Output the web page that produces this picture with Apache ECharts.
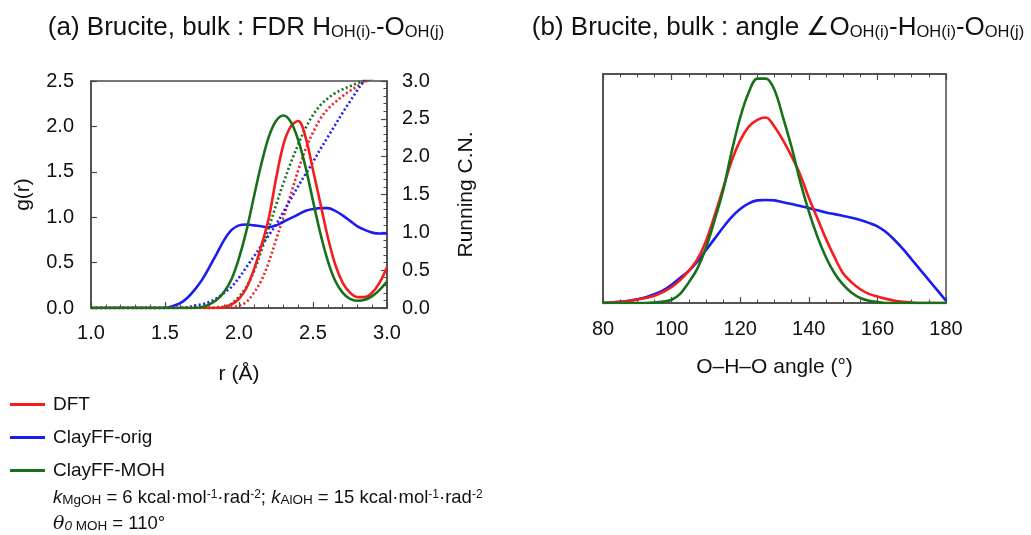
<!DOCTYPE html>
<html>
<head>
<meta charset="utf-8">
<script src="https://cdn.jsdelivr.net/npm/echarts@6/dist/echarts.min.js"></script>
<style>
html,body{margin:0;padding:0;background:#fff;}
#chart{width:1031px;height:535px;}
</style>
</head>
<body>
<div id="chart"></div>
<script>
// ---------- Data (panel a) ----------
const rValues = [1.00,1.05,1.10,1.15,1.20,1.25,1.30,1.35,1.40,1.45,1.50,1.55,1.60,1.65,1.70,1.75,1.80,1.85,1.90,1.95,2.00,2.05,2.10,2.15,2.20,2.25,2.30,2.35,2.40,2.45,2.50,2.55,2.60,2.65,2.70,2.75,2.80,2.85,2.90,2.95,3.00];
const gDFT    = [0,0,0,0,0,0,0,0,0,0,0,0,0,0,0,0,0,0.0,0.01,0.04,0.10,0.22,0.42,0.68,0.98,1.42,1.80,2.00,2.06,1.88,1.52,1.15,0.78,0.48,0.28,0.17,0.12,0.12,0.17,0.28,0.45];
const gOrig   = [0,0,0,0,0,0,0,0,0,0,0.0,0.02,0.05,0.11,0.20,0.31,0.45,0.60,0.75,0.86,0.91,0.92,0.91,0.90,0.89,0.91,0.95,0.99,1.03,1.07,1.09,1.10,1.10,1.07,1.02,0.96,0.90,0.86,0.83,0.82,0.82];
const gMOH    = [0,0,0,0,0,0,0,0,0,0,0,0,0,0,0.0,0.01,0.04,0.09,0.18,0.32,0.55,0.85,1.22,1.58,1.88,2.06,2.12,2.05,1.85,1.55,1.18,0.82,0.52,0.30,0.17,0.10,0.08,0.09,0.13,0.20,0.29];
const cnDFT   = [0,0,0,0,0,0,0,0,0,0,0,0,0,0,0,0,0,0,0.0,0.01,0.03,0.08,0.20,0.36,0.60,0.90,1.20,1.50,1.82,2.10,2.32,2.50,2.63,2.72,2.80,2.87,2.93,2.99,3.03,3.07,3.12];
const cnOrig  = [0,0,0,0,0,0,0,0,0,0,0,0,0.0,0.01,0.03,0.05,0.08,0.13,0.20,0.28,0.40,0.54,0.68,0.82,0.96,1.10,1.27,1.44,1.61,1.77,1.93,2.10,2.26,2.42,2.58,2.73,2.88,3.02,3.15,3.28,3.40];
const cnMOH   = [0,0,0,0,0,0,0,0,0,0,0,0,0,0,0,0,0.0,0.01,0.02,0.06,0.15,0.28,0.48,0.75,1.05,1.36,1.65,1.92,2.16,2.38,2.55,2.68,2.77,2.84,2.89,2.93,2.97,3.00,3.03,3.06,3.10];
const rTicks  = ['1.0','1.5','2.0','2.5','3.0'];

// ---------- Data (panel b) ----------
const angleValues = [80,82.5,85,87.5,90,92.5,95,97.5,100,102.5,105,107.5,110,112.5,115,117.5,120,122.5,125,127.5,130,132.5,135,137.5,140,142.5,145,147.5,150,152.5,155,157.5,160,162.5,165,167.5,170,172.5,175,177.5,180];
const angDFT  = [0,0.002,0.005,0.009,0.015,0.022,0.032,0.048,0.07,0.10,0.14,0.19,0.27,0.38,0.50,0.62,0.71,0.77,0.80,0.81,0.77,0.71,0.64,0.56,0.46,0.37,0.28,0.20,0.13,0.09,0.06,0.04,0.028,0.018,0.01,0.005,0.002,0,0,0,0];
const angOrig = [0,0.002,0.005,0.01,0.016,0.025,0.038,0.055,0.08,0.11,0.14,0.18,0.23,0.28,0.33,0.375,0.41,0.435,0.448,0.45,0.448,0.44,0.432,0.424,0.415,0.405,0.395,0.388,0.38,0.372,0.362,0.35,0.335,0.31,0.275,0.235,0.19,0.145,0.10,0.055,0.01];
const angMOH  = [0,0,0,0,0,0,0.002,0.006,0.014,0.04,0.09,0.15,0.24,0.36,0.49,0.66,0.81,0.92,0.98,0.98,0.93,0.81,0.68,0.53,0.40,0.29,0.20,0.13,0.08,0.045,0.022,0.01,0.004,0,0,0,0,0,0,0,0];

const seriesNames = ['DFT','ClayFF-orig','ClayFF-MOH'];
const colors = ['#f41c1c','#1c1cf2','#17701a'];

const FONT = "'Liberation Sans', Arial, Helvetica, sans-serif";
const AXC = '#4a4a4a';

const chart = echarts.init(document.getElementById('chart'), null, {renderer:'canvas'});
const pairs = (xs, ys) => xs.map((x,i)=>[x, ys[i]]);

function lineSeries(name, color, xs, ys, xi, yi, dotted){
  return {
    name, type:'line', xAxisIndex:xi, yAxisIndex:yi,
    data: pairs(xs, ys), showSymbol:false, symbol:'none', smooth:0.35, clip:true,
    lineStyle:{color, width:2.6, type: dotted ? [2,2.5] : 'solid'},
    itemStyle:{color}, z: dotted ? 2 : 3
  };
}

const baseTick = {show:true, inside:true, length:6, lineStyle:{color:AXC, width:1.2}};
const baseMinor = (n)=>({show:true, splitNumber:n, length:3.5, lineStyle:{color:AXC, width:1}});
const baseLine = {show:true, onZero:false, lineStyle:{color:AXC, width:1.5}};
const labelStyle = {fontFamily:FONT, fontSize:20, color:'#111'};
const nameStyle = {fontFamily:FONT, fontSize:21, color:'#111'};

const option = {
  animation:false,
  backgroundColor:'#fff',
  textStyle:{fontFamily:FONT},
  grid:[
    {left:91, top:81, width:296, height:227, show:true, borderColor:AXC, borderWidth:1.5, backgroundColor:'transparent'},
    {left:603, top:74, width:343, height:229, show:true, borderColor:AXC, borderWidth:1.5, backgroundColor:'transparent'}
  ],
  xAxis:[
    {gridIndex:0, type:'value', min:1, max:3, interval:0.5, position:'bottom',
     axisLine:baseLine, axisTick:baseTick, minorTick:baseMinor(5), splitLine:{show:false},
     axisLabel:Object.assign({margin:15, formatter:(v)=>rTicks[Math.round((v-1)/0.5)]}, labelStyle),
     name:'r (Å)', nameLocation:'middle', nameGap:56, nameTextStyle:nameStyle},
    {gridIndex:1, type:'value', min:80, max:180, interval:20, position:'bottom',
     axisLine:baseLine, axisTick:baseTick, minorTick:baseMinor(4), splitLine:{show:false},
     axisLabel:Object.assign({margin:16, formatter:(v)=>String(Math.round(v))}, labelStyle),
     name:'O–H–O angle (°)', nameLocation:'middle', nameGap:54, nameTextStyle:nameStyle},
    {gridIndex:1, type:'value', min:80, max:180, interval:20, position:'top',
     axisLine:baseLine, axisTick:baseTick, minorTick:baseMinor(4), splitLine:{show:false},
     axisLabel:{show:false}}
  ],
  yAxis:[
    {gridIndex:0, type:'value', min:0, max:2.5, interval:0.5, position:'left',
     axisLine:baseLine, axisTick:baseTick, splitLine:{show:false},
     axisLabel:Object.assign({margin:17, formatter:(v)=>v.toFixed(1)}, labelStyle),
     name:'g(r)', nameLocation:'middle', nameRotate:90, nameGap:57, nameTextStyle:nameStyle},
    {gridIndex:0, type:'value', min:0, max:3, interval:0.5, position:'right',
     axisLine:baseLine, axisTick:baseTick, minorTick:baseMinor(5), splitLine:{show:false},
     axisLabel:Object.assign({margin:15, formatter:(v)=>v.toFixed(1)}, labelStyle),
     name:'Running C.N.', nameLocation:'middle', nameRotate:90, nameGap:69, nameTextStyle:nameStyle},
    {gridIndex:1, type:'value', min:0, max:1.0, position:'left',
     axisLine:baseLine, axisTick:{show:false}, axisLabel:{show:false}, splitLine:{show:false}}
  ],
  legend:{
    data:seriesNames, orient:'vertical', left:10, top:394, itemGap:12, padding:0,
    icon:'rect', itemWidth:35, itemHeight:3,
    textStyle:{fontFamily:FONT, fontSize:19, color:'#111', lineHeight:21, padding:[0,0,0,3]},
    selectedMode:false
  },
  series:[
    lineSeries(seriesNames[0], colors[0], rValues, cnDFT, 0, 1, true),
    lineSeries(seriesNames[1], colors[1], rValues, cnOrig, 0, 1, true),
    lineSeries(seriesNames[2], colors[2], rValues, cnMOH, 0, 1, true),
    lineSeries(seriesNames[1], colors[1], rValues, gOrig, 0, 0, false),
    lineSeries(seriesNames[0], colors[0], rValues, gDFT, 0, 0, false),
    lineSeries(seriesNames[2], colors[2], rValues, gMOH, 0, 0, false),
    lineSeries(seriesNames[1], colors[1], angleValues, angOrig, 1, 2, false),
    lineSeries(seriesNames[0], colors[0], angleValues, angDFT, 1, 2, false),
    lineSeries(seriesNames[2], colors[2], angleValues, angMOH, 1, 2, false)
  ],
  graphic:[
    {type:'text', x:246, y:28, style:{
      text:'(a) Brucite, bulk : FDR H{s|OH(i)-}-O{s|OH(j)}',
      align:'center', verticalAlign:'middle',
      fontSize:26, fontFamily:FONT, fill:'#111',
      rich:{s:{fontSize:16.5, fontFamily:FONT, fill:'#111', verticalAlign:'bottom', lineHeight:16}}
    }},
    {type:'text', x:778, y:28, style:{
      text:'(b) Brucite, bulk : angle ∠O{s|OH(i)}-H{s|OH(i)}-O{s|OH(j)}',
      align:'center', verticalAlign:'middle',
      fontSize:26, fontFamily:FONT, fill:'#111',
      rich:{s:{fontSize:16.5, fontFamily:FONT, fill:'#111', verticalAlign:'bottom', lineHeight:16}}
    }},
    {type:'text', x:53, y:498, style:{
      text:'{i|k}{s|MgOH} = 6 kcal·mol{p|-1}·rad{p|-2}; {i|k}{s|AlOH} = 15 kcal·mol{p|-1}·rad{p|-2}',
      align:'left', verticalAlign:'middle',
      fontSize:18.5, fontFamily:FONT, fill:'#111',
      rich:{
        i:{fontSize:18.5, fontFamily:FONT, fontStyle:'italic', fill:'#111'},
        s:{fontSize:13.5, fontFamily:FONT, fill:'#111', verticalAlign:'bottom', lineHeight:13},
        p:{fontSize:12, fontFamily:FONT, fill:'#111', verticalAlign:'top', lineHeight:12}
      }
    }},
    {type:'text', x:53, y:524, style:{
      text:'{i|θ}{si|0}{s| MOH} = 110°',
      align:'left', verticalAlign:'middle',
      fontSize:18.5, fontFamily:FONT, fill:'#111',
      rich:{
        i:{fontSize:19, fontFamily:"'DejaVu Serif', serif", fontStyle:'italic', fill:'#111'},
        si:{fontSize:13.5, fontFamily:FONT, fontStyle:'italic', fill:'#111', verticalAlign:'bottom', lineHeight:13},
        s:{fontSize:13.5, fontFamily:FONT, fill:'#111', verticalAlign:'bottom', lineHeight:13}
      }
    }}
  ]
};
chart.setOption(option);
</script>
</body>
</html>
